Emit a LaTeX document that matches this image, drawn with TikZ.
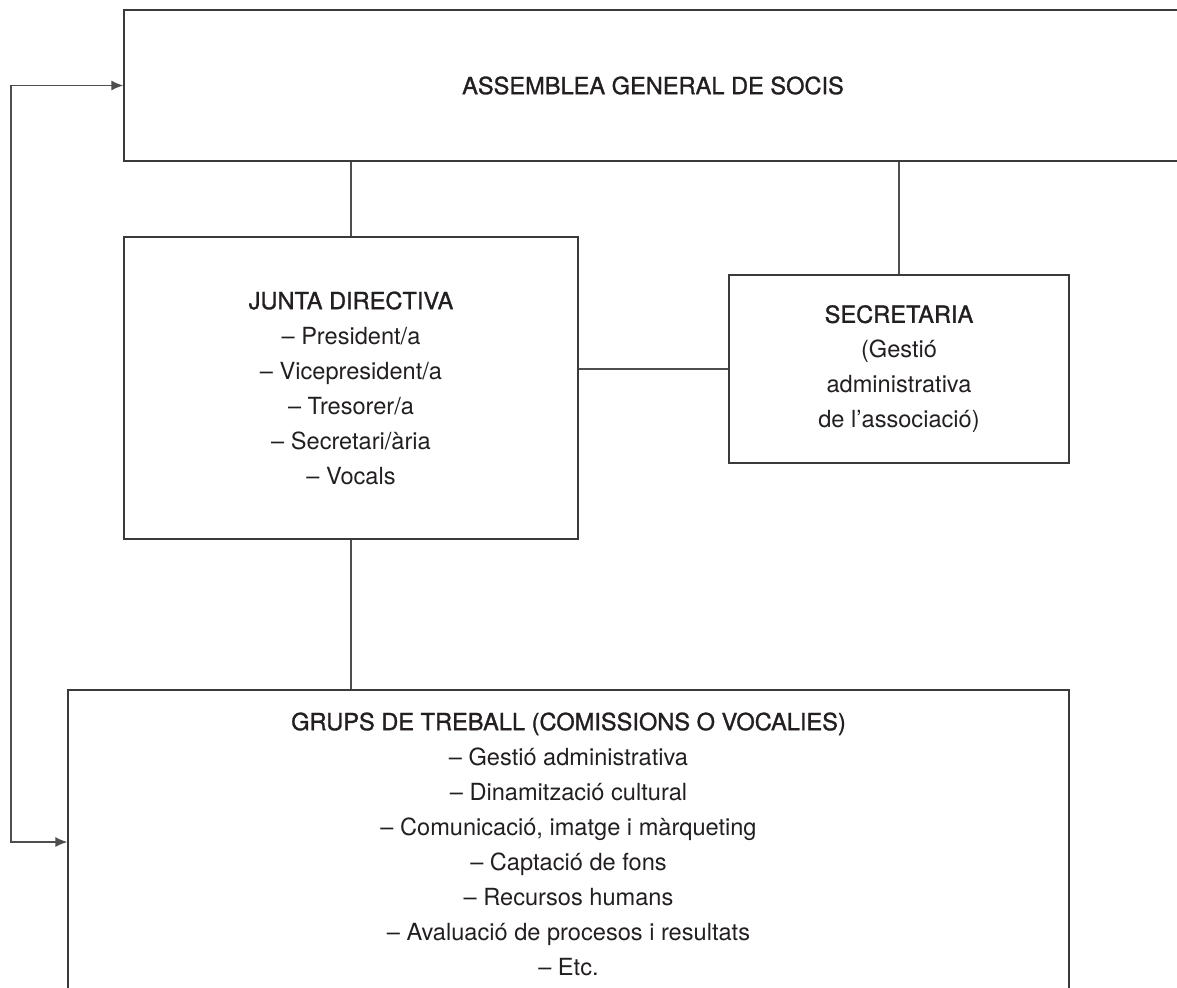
\documentclass[tikz,border=0pt]{standalone}
\usepackage{fontspec}
\setmainfont{TeX Gyre Heros}
\newfontfamily\titol{TeX Gyre Heros}[FakeBold=1.2]
\usetikzlibrary{arrows.meta,positioning}
\definecolor{oline}{HTML}{3A3A3A}
\definecolor{otext}{HTML}{231F20}

\begin{document}
\begin{tikzpicture}[x=0.5pt,y=-0.5pt,
 caixa/.style={draw=oline, line width=0.65pt, inner sep=0pt, align=center, text=otext, font=\fontsize{11.8}{17.5}\selectfont},
 enllac/.style={draw=oline!90, line width=0.65pt}]
 \useasboundingbox (0,0) rectangle (1177,987);
 \clip (0,0) rectangle (1177,987);
 \node[caixa, minimum width=529pt, minimum height=75.5pt] (assemblea) at (653,85.5) {{\titol ASSEMBLEA GENERAL DE SOCIS}};
 \node[caixa, minimum width=227pt, minimum height=151pt] (junta) at (351,388) {{\titol JUNTA DIRECTIVA}\\– President/a\\– Vicepresident/a\\– Tresorer/a\\– Secretari/ària\\– Vocals};
 \node[caixa, minimum width=170pt, minimum height=94pt] (secretaria) at (899,369) {{\titol SECRETARIA}\\(Gestió\\administrativa\\de l’associació)};
 \node[caixa, minimum width=500.5pt, minimum height=154pt] (grups) at (568.5,844) {{\titol GRUPS DE TREBALL (COMISSIONS O VOCALIES)}\\– Gestió administrativa\\– Dinamització cultural\\– Comunicació, imatge i màrqueting\\– Captació de fons\\– Recursos humans\\– Avaluació de procesos i resultats\\– Etc.};
 \coordinate (gir) at (11,842);
 \draw[enllac] (junta.north) -- (junta.north |- assemblea.south);
 \draw[enllac] (secretaria.north) -- (secretaria.north |- assemblea.south);
 \draw[enllac] (secretaria.west) -- (secretaria.west -| junta.east);
 \draw[enllac] (junta.south) -- (junta.south |- grups.north);
 \draw[enllac, {Latex[length=6pt,width=5pt]}-{Latex[length=6pt,width=5pt]}] (assemblea.west) -| (gir) -- (gir -| grups.west);
\end{tikzpicture}
\end{document}
